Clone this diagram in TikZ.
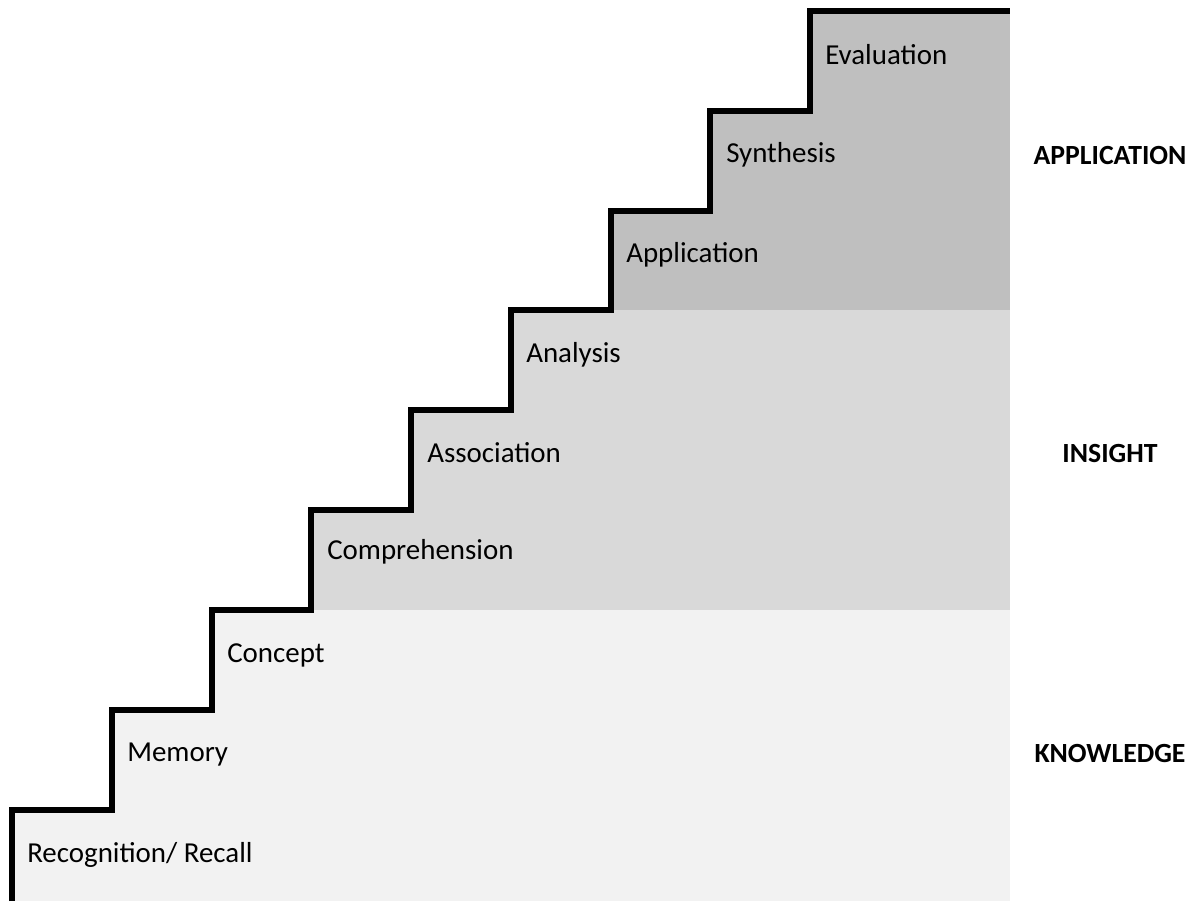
\documentclass[tikz,border=0pt]{standalone}
\usepackage{fontspec}
\setmainfont{Carlito}
\begin{document}
\begin{tikzpicture}[x=0.75pt,y=-0.75pt,
  steplabel/.style={anchor=west,inner sep=0pt,font=\fontsize{21.7}{24}\selectfont},
  grouplabel/.style={anchor=center,inner sep=0pt,font=\fontsize{20.8}{24}\selectfont\bfseries},
  stairline/.style={line width=4.2pt,line join=miter,line cap=butt}]
\useasboundingbox (0,0) rectangle (1197,901);
\definecolor{lightband}{HTML}{F2F2F2}
\definecolor{midband}{HTML}{D9D9D9}
\definecolor{darkband}{HTML}{BFBFBF}
% bands, clipped to the area under the stairs
\begin{scope}
\clip (12,901) -- (12,810) -- (112,810) -- (112,710) -- (212,710) -- (212,610)
  -- (311,610) -- (311,510) -- (411,510) -- (411,410) -- (511,410) -- (511,310)
  -- (611,310) -- (611,211) -- (710,211) -- (710,111) -- (810,111) -- (810,11) -- (1010,11)
  -- (1010,901) -- cycle;
\fill[lightband] (0,610) rectangle (1010,901);
\fill[midband] (0,310) rectangle (1010,610);
\fill[darkband] (0,0) rectangle (1010,310);
\end{scope}
% stairs
\draw[stairline] (12,901) -- (12,810) -- (112,810) -- (112,710) -- (212,710) -- (212,610)
  -- (311,610) -- (311,510) -- (411,510) -- (411,410) -- (511,410) -- (511,310)
  -- (611,310) -- (611,211) -- (710,211) -- (710,111) -- (810,111) -- (810,11) -- (1010,11);
% step labels
\node[steplabel] (s1) at (27,855) {Recognition/ Recall};
\node[steplabel] (s2) at (127,755) {Memory};
\node[steplabel] (s3) at (227,655) {Concept};
\node[steplabel] (s4) at (327,552) {Comprehension};
\node[steplabel] (s5) at (427,453) {Association};
\node[steplabel] (s6) at (526,355) {Analysis};
\node[steplabel] (s7) at (626,255) {Application};
\node[steplabel] (s8) at (726,155) {Synthesis};
\node[steplabel] (s9) at (825,55) {Evaluation};
% group labels
\node[grouplabel] (g1) at (1110,155) {APPLICATION};
\node[grouplabel] (g2) at (1110,453) {INSIGHT};
\node[grouplabel] (g3) at (1110,753) {KNOWLEDGE};
\end{tikzpicture}
\end{document}
